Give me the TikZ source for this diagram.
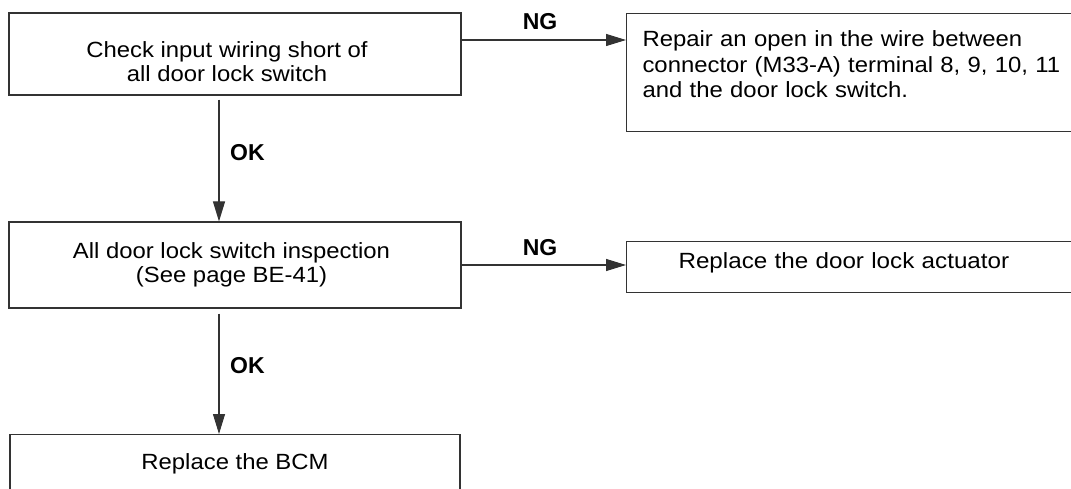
\documentclass[tikz,border=0pt]{standalone}
\usepackage{fontspec}
\setmainfont{Liberation Sans}
\newfontfamily\lfont[FakeStretch=1.085]{Liberation Sans}
\newfontfamily\wfont[FakeStretch=1.1]{Liberation Sans}
\usetikzlibrary{arrows.meta}
\begin{document}
\begin{tikzpicture}[x=1pt,y=-1pt,
  box/.style={draw=black!80, line width=1.1pt, inner sep=0pt, rectangle},
  lbox/.style={box, font=\lfont\fontsize{22}{24.3}\selectfont, align=center, minimum width=452pt},
  rbox/.style={box, font=\lfont\fontsize{22}{25.5}\selectfont, align=left},
  lab/.style={font=\bfseries\fontsize{23}{24}\selectfont, inner sep=0pt},
  arr/.style={draw=black!80, line width=1.1pt, -{Triangle[length=20pt,width=12pt]}},
]
\useasboundingbox (0,0) rectangle (1071,489);
\clip (0,0) rectangle (1071,489);

\node[lbox, minimum height=82pt] (b1) at (235,54)
  {\rule{0pt}{31pt}Check input wiring short of\kern16pt\\all door lock switch\kern16pt};
\node[lbox, minimum height=86pt] (b2) at (235,265)
  {All door lock switch inspection\kern7pt\\(See page BE-41)\kern7pt};
\node[lbox, minimum width=450pt, minimum height=80pt, text height=16pt, text depth=26pt, anchor=north] (b3) at (235,434)
  {Replace the BCM};

\node[rbox, anchor=north west, minimum width=464pt, minimum height=118pt, inner xsep=16pt, text width=432pt] (n1) at (626,13)
  {\rule{0pt}{20pt}Repair an open in the wire between\\connector (M33-A) terminal 8, 9, 10, 11\\and the door lock switch.\rule[-21pt]{0pt}{21pt}};
\node[rbox, font=\wfont\fontsize{22}{25.5}\selectfont, anchor=north west, minimum width=464pt, minimum height=51pt, inner xsep=52pt, text width=360pt, text height=16pt, text depth=13pt] (n2) at (626,241)
  {Replace the door lock actuator};

\draw[arr, shorten <=4pt] ([xshift=-16pt]b1.south) -- ([xshift=-16pt]b1.south |- b2.north);
\node[lab, anchor=west] (ok1) at (230,152.5) {OK};
\draw[arr, shorten <=5pt] ([xshift=-16pt]b2.south) -- ([xshift=-16pt]b2.south |- b3.north);
\node[lab, anchor=west] (ok2) at (230,365.5) {OK};

\draw[arr] ([yshift=14pt]b1.east) -- ([yshift=14pt]b1.east -| n1.west);
\node[lab] (ng1) at (540,22) {NG};
\draw[arr] (b2.east) -- (b2.east -| n2.west);
\node[lab] (ng2) at (540,247.5) {NG};
\end{tikzpicture}
\end{document}
